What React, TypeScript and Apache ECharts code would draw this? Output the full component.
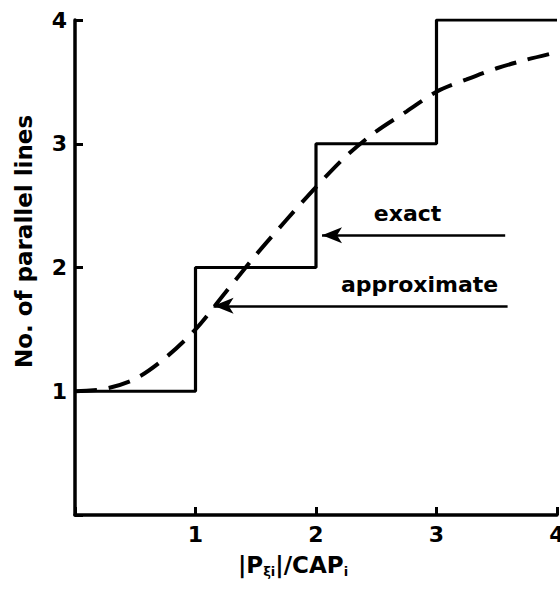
import React, { useEffect, useRef } from "react";
import * as echarts from "echarts";

// Exact step function: number of parallel lines vs |P|/CAP
const stepX = [0, 1, 1, 2, 2, 3, 3, 4];
const stepY = [1, 1, 2, 2, 3, 3, 4, 4];

// Approximate (dashed) curve
const approxX = [0, 0.25, 0.5, 0.75, 1.0, 1.25, 1.5, 1.75, 2.0, 2.25, 2.5, 2.75, 3.0, 3.25, 3.5, 3.75, 4.0];
const approxY = [1.0, 1.02, 1.1, 1.27, 1.5, 1.8, 2.1, 2.38, 2.65, 2.9, 3.1, 3.26, 3.42, 3.52, 3.61, 3.68, 3.74];

// Annotation arrows: [y, tailX, tipX]
const exactArrow = [2.26, 3.57, 2.05];
const approxArrow = [1.69, 3.59, 1.15];
// Annotation labels: [x, y]
const annotationNames = ["exact", "approximate"];
const annotationPos = [
  [2.76, 2.44],
  [2.86, 1.86],
];

const xTicks = [0, 1, 2, 3, 4];
const yTicks = [0, 1, 2, 3, 4];

const FONT = "'DejaVu Sans', 'Liberation Sans', Arial, sans-serif";

export default function App() {
  const ref = useRef<HTMLDivElement>(null);
  useEffect(() => {
    if (!ref.current) return;
    const chart = echarts.init(ref.current, null, { renderer: "svg" });
    const zip = (xs: number[], ys: number[]) => xs.map((x, i) => [x, ys[i]]);
    const arrowData = (a: number[]) => [
      { coord: [a[1], a[0]] },
      { coord: [a[2], a[0]] },
    ];
    chart.setOption({
      animation: false,
      backgroundColor: "#ffffff",
      grid: { left: 75, right: 3, top: 20, bottom: 79, containLabel: false, outerBoundsMode: "none" },
      xAxis: {
        type: "value",
        min: xTicks[0],
        max: xTicks[xTicks.length - 1],
        interval: 1,
        splitLine: { show: false },
        axisLine: { lineStyle: { color: "#000", width: 3.5 } },
        axisTick: { show: true, inside: true, length: 8, lineStyle: { color: "#000", width: 3 } },
        axisLabel: {
          color: "#000",
          fontFamily: FONT,
          fontWeight: "bold",
          fontSize: 22,
          margin: 8,
          formatter: (v: number) => (v === 0 ? "" : String(v)),
        },
        name: "{b||P}{s|ξi}{b||/CAP}{s|i}",
        nameLocation: "middle",
        nameGap: 36,
        nameTextStyle: {
          color: "#000",
          padding: [0, 46, 0, 0],
          rich: {
            b: { fontFamily: FONT, fontWeight: "bold", fontSize: 23, color: "#000" },
            s: { fontFamily: FONT, fontWeight: "bold", fontSize: 13, color: "#000", padding: [14, 0, 0, 0] },
          },
        },
      },
      yAxis: {
        type: "value",
        min: yTicks[0],
        max: yTicks[yTicks.length - 1],
        interval: 1,
        splitLine: { show: false },
        axisLine: { lineStyle: { color: "#000", width: 3.5 } },
        axisTick: { show: true, inside: true, length: 8, lineStyle: { color: "#000", width: 3 } },
        axisLabel: {
          color: "#000",
          fontFamily: FONT,
          fontWeight: "bold",
          fontSize: 22,
          margin: 8,
          formatter: (v: number) => (v === 0 ? "" : String(v)),
        },
        name: "No. of parallel lines",
        nameLocation: "middle",
        nameRotate: 90,
        nameGap: 40,
        nameTextStyle: {
          color: "#000",
          fontFamily: FONT,
          fontWeight: "bold",
          fontSize: 23,
          padding: [0, 0, 0, 52],
        },
      },
      series: [
        {
          name: "exact",
          type: "line",
          data: zip(stepX, stepY),
          symbol: "none",
          lineStyle: { color: "#000", width: 3.2 },
          z: 3,
          markLine: {
            silent: true,
            symbol: ["none", "arrow"],
            symbolSize: [12, 20],
            label: { show: false },
            lineStyle: { color: "#000", width: 2.6, type: "solid" },
            data: [arrowData(exactArrow), arrowData(approxArrow)],
          },
        },
        {
          name: "approximate",
          type: "line",
          data: zip(approxX, approxY),
          symbol: "none",
          smooth: 0.3,
          lineStyle: { color: "#000", width: 4, type: [22, 12] },
          z: 2,
        },
        {
          name: "labels",
          type: "scatter",
          symbolSize: 0,
          silent: true,
          itemStyle: { color: "#000", opacity: 1 },
          data: annotationNames.map((n, i) => ({ name: n, value: annotationPos[i] })),
          label: {
            show: true,
            position: "inside",
            formatter: (p: any) => p.name,
            color: "#000",
            opacity: 1,
            textBorderWidth: 0,
            fontFamily: FONT,
            fontWeight: "bold",
            fontSize: 22,
          },
        },
      ],
    });
    return () => chart.dispose();
  }, []);
  return <div ref={ref} style={{ width: 560, height: 594, position: "absolute", left: 0, top: 0 }} />;
}
